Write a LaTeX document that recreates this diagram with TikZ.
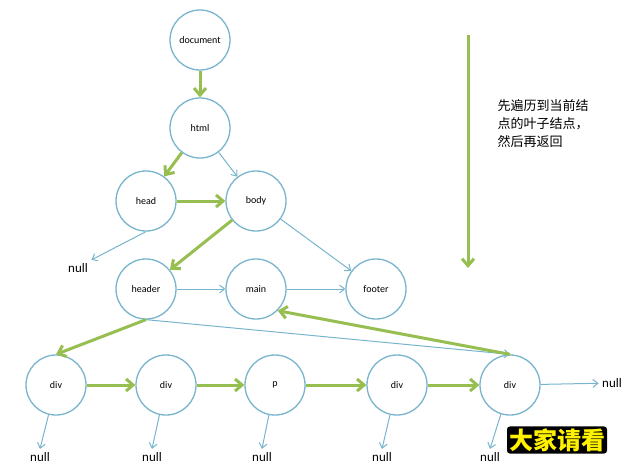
\documentclass[tikz,border=0pt]{standalone}
\usepackage{fontspec}
\setmainfont{Carlito}
\newfontfamily\cjk{Noto Sans CJK SC}
\usetikzlibrary{arrows.meta}
\definecolor{cb}{RGB}{120,180,205}
\definecolor{cg}{RGB}{150,190,80}
\begin{document}
\begin{tikzpicture}[x=1pt,y=-1pt,
  nd/.style={circle,draw=cb,line width=1.3pt,minimum size=60pt,inner sep=0pt,font=\fontsize{10}{12}\selectfont},
  nl/.style={font=\fontsize{13}{15}\selectfont},
  bl/.style={draw=cb,line width=1pt,-{Straight Barb[length=5pt,width=8pt]}},
  gr/.style={draw=cg,line width=3pt,-{Straight Barb[length=7pt,width=12pt]}}]
\useasboundingbox (0,0) rectangle (640,471);
\node[nd] (doc) at (200,40) {document};
\node[nd] (html) at (200,128) {html};
\node[nd] (head) at (146,201) {head};
\node[nd] (body) at (256,201) {body};
\node[nl] (n0) at (78,268) {null};
\node[nd] (header) at (146,289) {header};
\node[nd] (main) at (256,289) {main};
\node[nd] (footer) at (376,289) {footer};
\node[nd] (d1) at (56,385) {div};
\node[nd] (d2) at (166,385) {div};
\node[nd] (p) at (275,385) {p};
\node[nd] (d3) at (397,385) {div};
\node[nd] (d5) at (510,385) {div};
\node[nl] (n1) at (40,457) {null};
\node[nl] (n2) at (152,457) {null};
\node[nl] (n3) at (262,457) {null};
\node[nl] (n4) at (382,457) {null};
\node[nl] (n5) at (490,457) {null};
\node[nl] (n6) at (612,383) {null};
\coordinate (t) at (468,35);
\coordinate (b) at (468,268);
\draw[gr] (t) -- (b);
\node[font=\cjk\fontsize{13}{18}\selectfont,align=left,anchor=north west] (txt) at (494,96) {先遍历到当前结\\点的叶子结点，\\然后再返回};
\draw[gr] (doc) -- (html);
\draw[gr] (html) -- (head);
\draw[bl] (html) -- (body);
\draw[gr] (head) -- (body);
\draw[bl] (head.south) -- (n0.north east);
\draw[gr] (body) -- (header);
\draw[bl] (body) -- (footer);
\draw[bl] (header) -- (main);
\draw[bl] (main) -- (footer);
\draw[gr] (header.south) -- (d1.north);
\draw[bl] (header.south) -- (d5.north);
\draw[gr] (d5.north) -- (main.south east);
\draw[gr] (d1) -- (d2);
\draw[gr] (d2) -- (p);
\draw[gr] (p) -- (d3);
\draw[gr] (d3) -- (d5);
\draw[bl] (d5) -- (n6);
\foreach \a/\b in {d1/n1,d2/n2,p/n3,d3/n4,d5/n5} \draw[bl] (\a) -- (\b.north);
\node[font=\cjk\fontsize{24}{26}\bfseries,text=yellow,fill=black,inner sep=2pt,rounded corners=3pt] (wm) at (557,440) {大家请看};
\end{tikzpicture}
\end{document}
